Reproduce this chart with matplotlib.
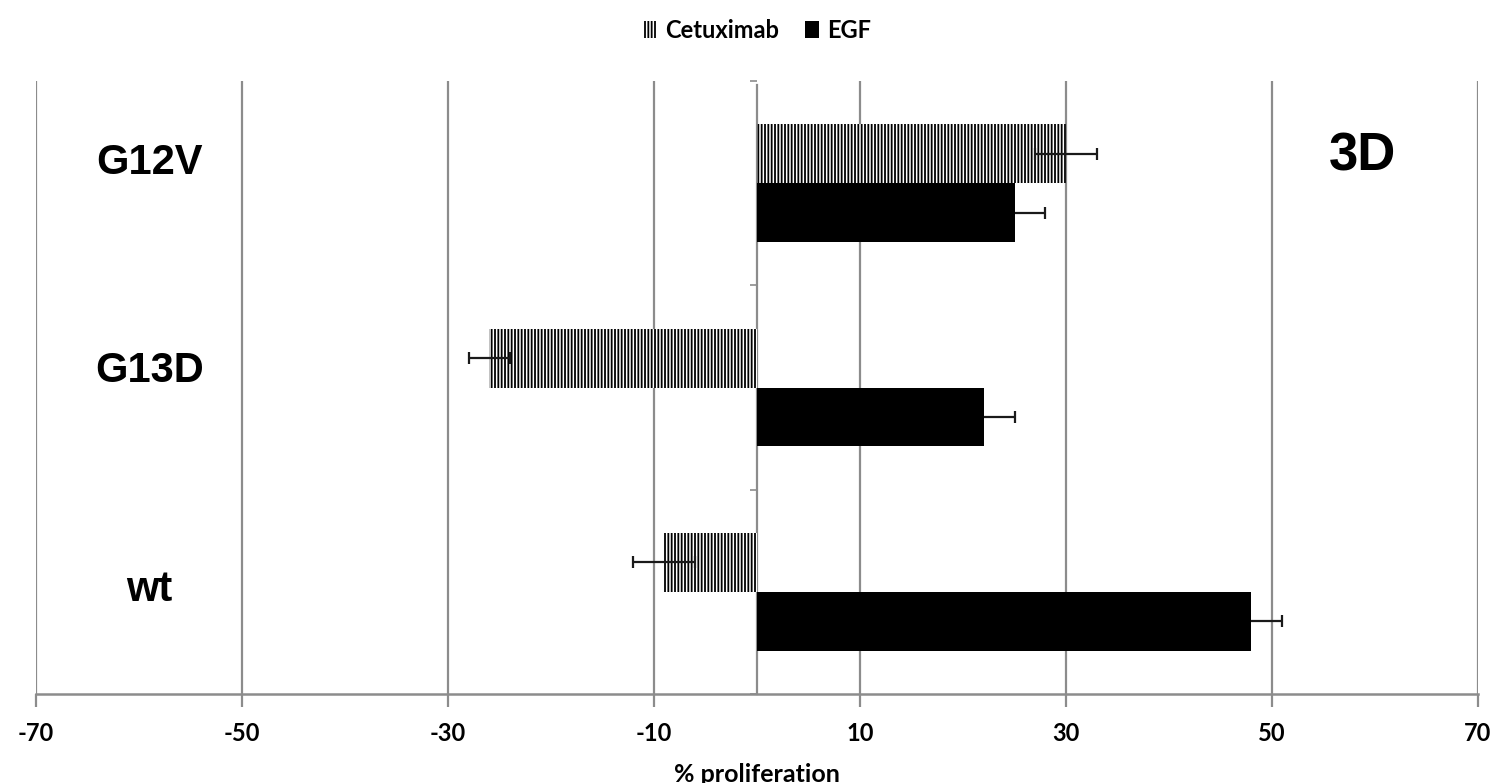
import matplotlib
matplotlib.use("Agg")
import matplotlib.pyplot as plt
from matplotlib.patches import Patch
import numpy as np

# ---- data ----
categories = ["wt", "G13D", "G12V"]          # bottom -> top
cetuximab = [-9, -26, 30]
cetuximab_err = [3, 2, 3]
egf = [48, 22, 25]
egf_err = [3, 3, 3]
xticks = [-70, -50, -30, -10, 10, 30, 50, 70]
series_names = ["Cetuximab", "EGF"]
panel_label = "3D"
xlabel = "% proliferation"

# layout only: vertical nudges of the category labels
label_dy = [0.01, 0.08, 0.10]

plt.rcParams["hatch.linewidth"] = 1.3

W, H = 1499, 783
fig = plt.figure(figsize=(W / 100, H / 100), dpi=100)
ax = fig.add_axes([36 / W, 1 - 694 / H, (1478 - 36) / W, (694 - 81) / H])

ypos = np.arange(len(categories))
bh = 0.288

ax.barh(ypos + bh / 2, cetuximab, height=bh, facecolor="white",
        edgecolor="black", linewidth=0, hatch="|||||", zorder=3)
ax.barh(ypos - bh / 2, egf, height=bh, facecolor="black",
        edgecolor="black", linewidth=0, zorder=3)
ax.errorbar(cetuximab, ypos + bh / 2, xerr=cetuximab_err, fmt="none",
            ecolor="#1a1a1a", elinewidth=1.6, capsize=4.6, capthick=1.6, zorder=4)
ax.errorbar(egf, ypos - bh / 2, xerr=egf_err, fmt="none",
            ecolor="#1a1a1a", elinewidth=1.6, capsize=4.6, capthick=1.6, zorder=2.5)

ax.set_xlim(-70, 70)
ax.set_ylim(-0.5, len(categories) - 0.5)
ax.set_xticks(xticks)
ax.set_xticklabels([str(t) for t in xticks], fontfamily="Lato",
                   fontweight="bold", fontsize=17)
ax.xaxis.grid(True, color="#8c8c8c", linewidth=1.6, zorder=0)
ax.set_axisbelow(True)

# category axis at x=0
ax.spines["left"].set_position(("data", 0))
ax.spines["left"].set_color("#8c8c8c")
ax.spines["left"].set_linewidth(1.6)
ax.spines["left"].set_zorder(1)
ax.spines["left"].set_bounds(-0.5, len(categories) - 0.5 - 0.02)
ax.set_yticks(np.arange(-0.5, len(categories)))
ax.set_yticklabels([])
ax.tick_params(axis="y", length=5, width=1.2, color="#8c8c8c", direction="out")
ax.spines["top"].set_visible(False)
ax.spines["right"].set_visible(False)
ax.spines["bottom"].set_color("#8c8c8c")
ax.spines["bottom"].set_linewidth(1.8)
ax.tick_params(axis="x", length=9, width=1.6, color="#8c8c8c", pad=11,
               labelcolor="black")

# category labels inside plot
for i, name in enumerate(categories):
    ax.text(-59.0, ypos[i] + label_dy[i], name, ha="center", va="center",
            fontfamily="Liberation Sans", fontweight="bold", fontsize=30)

ax.text(58.8, 2.13, panel_label, ha="center", va="center",
        fontfamily="Liberation Sans", fontweight="bold", fontsize=38)

# legend
handles = [Patch(facecolor="white", edgecolor="black", linewidth=0, hatch="|||||"),
           Patch(facecolor="black", edgecolor="black", linewidth=0)]
fig.legend(handles, series_names, loc="center", bbox_to_anchor=(757 / W, 1 - 30 / H),
           ncol=2, frameon=False, handlelength=0.6, handleheight=0.7,
           handletextpad=0.35, columnspacing=1.1,
           prop={"family": "Lato", "weight": "bold", "size": 17})

fig.text(757 / W, 1.5 / H, xlabel, ha="center", va="baseline",
         fontfamily="Lato", fontweight="bold", fontsize=18)

fig.savefig("out.png", dpi=100)
